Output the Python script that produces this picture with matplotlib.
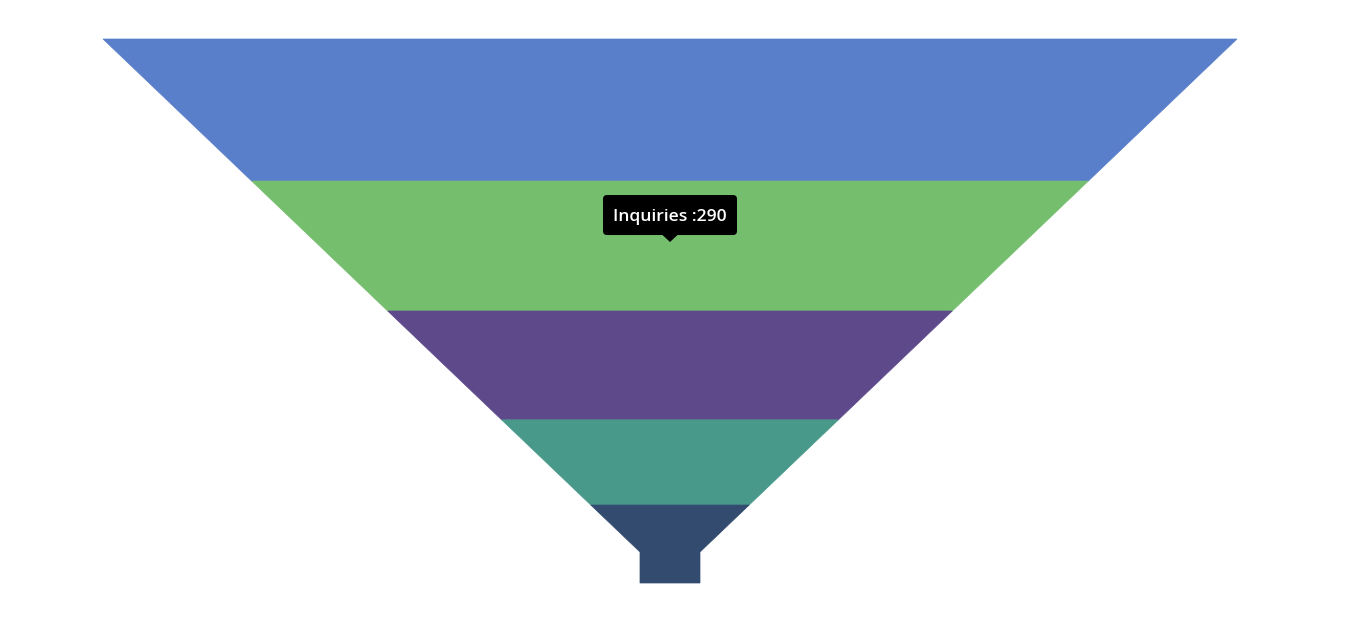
import matplotlib
matplotlib.use("Agg")
import matplotlib.pyplot as plt
from matplotlib.patches import Polygon, FancyBboxPatch

# funnel stages (top to bottom)
stages = ["Visitors", "Inquiries", "Applicants", "Admitted", "Enrolled"]
values = [317, 290, 243, 190, 174]
colors = ["#5a7fca", "#75be6e", "#5e4a8b", "#48998a", "#334b6f"]
highlight = "Inquiries"

# layout in pixels
W, H = 1347, 634
top, bottom = 39, 583
cx = 670
top_half = 567
neck_half = 30
neck_h = 31
neck_top = bottom - neck_h


def half_width(y):
    if y >= neck_top:
        return neck_half
    return top_half - (top_half - neck_half) * (y - top) / (neck_top - top)


fig = plt.figure(figsize=(W / 100, H / 100), dpi=100)
ax = fig.add_axes([0, 0, 1, 1])
ax.set_xlim(0, W)
ax.set_ylim(H, 0)
ax.axis("off")

scale = (bottom - top) / sum(values)
y0 = top
centers = {}
for name, v, c in zip(stages, values, colors):
    y1 = y0 + v * scale
    left = [(cx - half_width(y0), y0)]
    right = [(cx + half_width(y0), y0)]
    if y0 < neck_top < y1:
        left.append((cx - neck_half, neck_top))
        right.append((cx + neck_half, neck_top))
    left.append((cx - half_width(y1), y1))
    right.append((cx + half_width(y1), y1))
    pts = left + right[::-1]
    ax.add_patch(Polygon(pts, closed=True, facecolor=c, edgecolor=c, lw=0.5))
    centers[name] = (y0 + y1) / 2
    y0 = y1

# tooltip
i = stages.index(highlight)
tip_y = centers[highlight] - 4
bw, bh = 134, 40
bx, by = cx - bw / 2, tip_y - 7 - bh
ax.add_patch(FancyBboxPatch((bx, by), bw, bh, boxstyle="round,pad=0,rounding_size=4",
                            facecolor="black", edgecolor="none"))
ax.add_patch(Polygon([(cx - 8, by + bh - 0.5), (cx + 8, by + bh - 0.5), (cx, tip_y)],
                     closed=True, facecolor="black", edgecolor="none"))
ax.text(cx, by + bh / 2 + 1.5, f"{highlight} :{values[i]}", color="white", fontsize=12.6,
        fontweight="semibold", family="Open Sans", ha="center", va="center")

fig.savefig("out.png", dpi=100)
